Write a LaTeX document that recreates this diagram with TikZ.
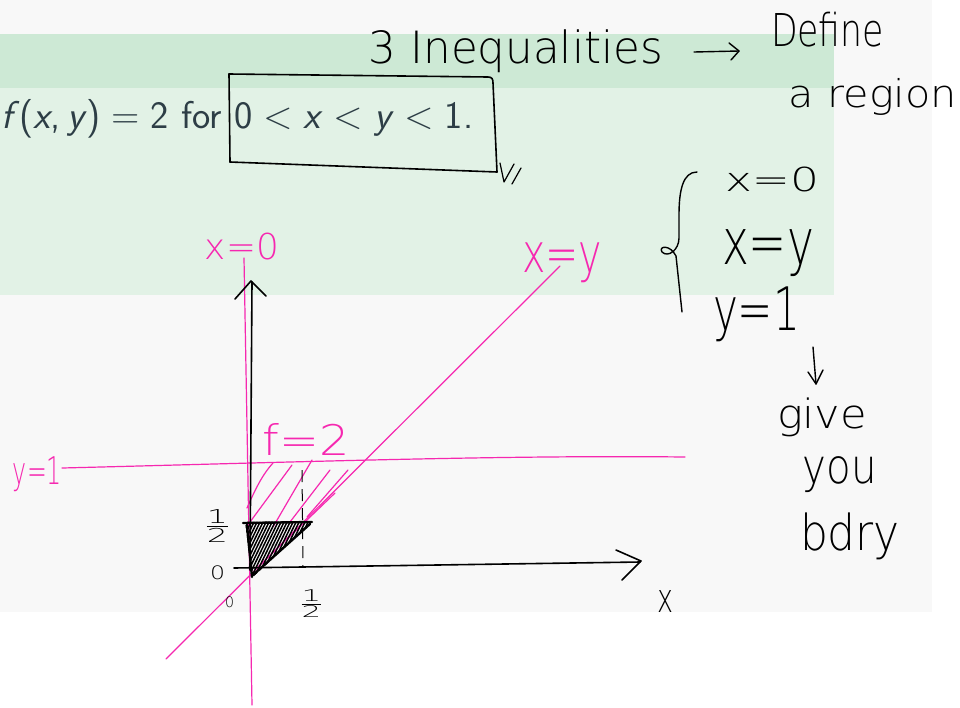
\documentclass[tikz,border=0pt]{standalone}
\usepackage{fontspec}
\usepackage{graphicx}
\IfFontExistsTF{DejaVu Sans ExtraLight}{\newfontfamily\hand{DejaVu Sans ExtraLight}}{\newfontfamily\hand{Open Sans}}
\definecolor{pinkink}{RGB}{246,40,176}
\definecolor{hdrgreen}{RGB}{205,233,213}
\definecolor{bodygreen}{RGB}{226,242,230}
\definecolor{slidegrey}{RGB}{248,248,248}
\definecolor{slidetext}{RGB}{45,62,70}
\newcommand{\hw}[3]{\resizebox*{#1}{#2}{\hand #3}}
\newcommand{\hhalf}[2]{\resizebox*{#1}{#2}{$\frac{\mbox{\hand 1}}{\mbox{\hand 2}}$}}
\begin{document}
\begin{tikzpicture}[x=1pt,y=-1pt,
  ink/.style={line width=1.6pt, line cap=round, line join=round, black},
  pinkline/.style={line width=1.2pt, line cap=round, line join=round, pinkink},
  handtxt/.style={inner sep=0pt, outer sep=0pt, anchor=center},
  pinktxt/.style={handtxt, text=pinkink}]
\useasboundingbox (0,0) rectangle (960,707);
\fill[white] (0,0) rectangle (960,707);
\fill[slidegrey] (0,0) rectangle (932,612);
\fill[bodygreen] (0,34) rectangle (834,295);
\fill[hdrgreen] (0,34) rectangle (834,88);

% slide text
\node[anchor=base west, inner sep=0pt, text=slidetext] (cond) at (1,128)
  {\resizebox{472pt}{!}{\fontsize{26}{30}\selectfont\sffamily
   \textit{f}(\textit{x},\,\textit{y})\;=\;2 for 0\;<\;\textit{x}\;<\;\textit{y}\;<\;1.}};

% hand-drawn box around the inequalities
\draw[ink] (229,74) -- (230,162);
\draw[ink] (229,74) -- (488,77) .. controls (492,77) and (493,79) .. (493,83) -- (497,172);
\draw[ink] (230,162) -- (497,172);
\draw[ink, line width=1.2pt] (500,163) -- (504,182) -- (514,164) (512,184) -- (521,168);

% top notes
\node[handtxt] (three) at (516,51.5) {\hw{294pt}{43pt}{3 Inequalities}};
\node[handtxt] (define) at (827.5,29.5) {\hw{113pt}{35pt}{Define}};
\node[handtxt] (region) at (873,96.5) {\hw{168pt}{37pt}{a region}};
\coordinate (arrA) at (694,52);
\coordinate (arrB) at (739,51);
\draw[ink, line width=1.4pt] (arrA) -- (arrB);
\draw[ink, line width=1.4pt] (729,43) -- (arrB) -- (731,60);

% brace and boundaries
\draw[ink, line width=1.4pt] (697,172) .. controls (683,172) and (679,190) .. (679,215) -- (679,238)
  .. controls (679,250) and (668,258) .. (662,252) .. controls (658,246) and (670,244) .. (676,256) -- (682,312);
\node[handtxt] (xeq0) at (772,179.5) {\hw{94pt}{25pt}{x=0}};
\node[handtxt] (xeqy) at (768,253.5) {\hw{92pt}{47pt}{x=y}};
\node[handtxt] (yeq1) at (756.5,314.5) {\hw{87pt}{55pt}{y=1}};
\coordinate (dA) at (813,347);
\coordinate (dB) at (816,384);
\draw[ink, line width=1.4pt] (dA) -- (dB);
\draw[ink, line width=1.4pt] (808,372) -- (dB) -- (823,370);
\node[handtxt] (give) at (822,417.5) {\hw{90pt}{39pt}{give}};
\node[handtxt] (you) at (840,475) {\hw{74pt}{36pt}{you}};
\node[handtxt] (bdry) at (850,536.5) {\hw{100pt}{47pt}{bdry}};

% pink lines
\draw[pinkline] (244,258) -- (252,705);
\draw[pinkline] (166,659) -- (560,266);
\draw[pinkline] (62,468) .. controls (300,462) and (500,455) .. (685,457);
\draw[pinkline] (258,567) -- (335,493);
% pink hatching
\draw[pinkline] (247,508) .. controls (255,490) and (262,475) .. (273,463);
\draw[pinkline] (250,522) -- (292,465);
\draw[pinkline] (273,527) -- (312,460);
\draw[pinkline] (290,522) -- (330,470);
\draw[pinkline] (307,517) -- (348,470);

% axes
\draw[ink] (250,570) -- (252,282);
\draw[ink] (235,299) -- (251,281) -- (266,296);
\draw[ink] (234,568) -- (640,562);
\draw[ink] (616,550) -- (641,561) -- (622,580);
\node[handtxt] (xlab) at (665,601) {\hw{16pt}{22pt}{x}};

% black triangle
\begin{scope}
\clip (245,522) -- (313,521) -- (252,578) -- cycle;
\foreach \i in {0,...,24} \draw[ink, line width=1.5pt] ({250+\i*3},518) -- ++(-30,62);
\end{scope}
\draw[ink, line width=2.4pt] (243,523) -- (312,522);
\draw[ink, line width=2.4pt] (247,525) -- (252,577);
\draw[ink, line width=2.4pt] (310,524) -- (253,575);

% dashed half line
\draw[black, line width=1pt, dash pattern=on 12pt off 7pt] (302,470) -- (303,567);

% pink labels
\node[pinktxt] (px0) at (242,246.5) {\hw{74pt}{27pt}{x=0}};
\node[pinktxt] (pxy) at (562,263) {\hw{80pt}{40pt}{x=y}};
\node[pinktxt] (py1) at (37.5,474.5) {\hw{49pt}{35pt}{y=1}};
\node[pinktxt] (pf2) at (306.5,439) {\hw{87pt}{32pt}{f=2}};

% numbers
\node[handtxt] (half1) at (217.5,526) {\hhalf{29pt}{32pt}};
\node[handtxt] (half2) at (311.5,603.5) {\hhalf{27pt}{27pt}};
\node[handtxt] (zero1) at (217.5,573) {\hw{15pt}{14pt}{0}};
\node[handtxt] (zero2) at (229.5,602.5) {\hw{9pt}{11pt}{0}};
\end{tikzpicture}
\end{document}
